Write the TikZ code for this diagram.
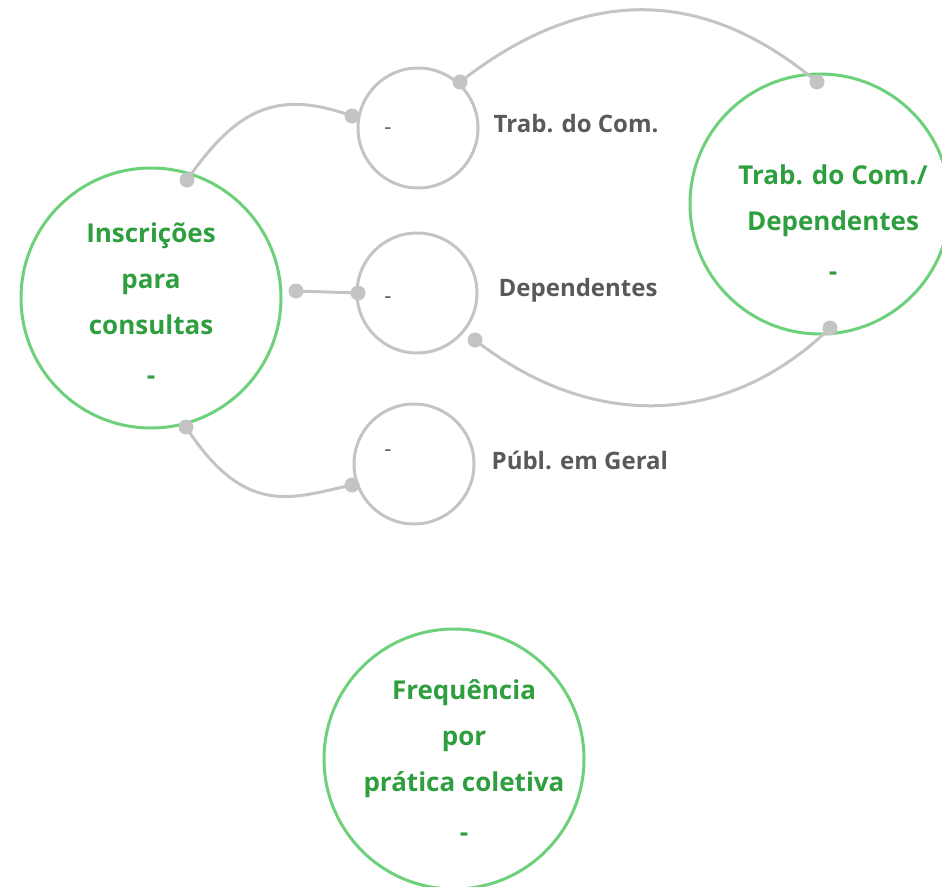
\documentclass[tikz,border=0pt]{standalone}
\usepackage{fontspec}
\setmainfont{Open Sans}
\usetikzlibrary{positioning}
\definecolor{ringgreen}{HTML}{6CD17A}
\definecolor{textgreen}{HTML}{2E9E3E}
\definecolor{ringgray}{HTML}{C4C4C4}
\definecolor{textgray}{HTML}{595959}
\tikzset{
  bigring/.style={circle, draw=ringgreen, line width=3pt, minimum size=260pt, inner sep=0pt},
  smallring/.style={circle, draw=ringgray, line width=3pt, minimum size=120pt, inner sep=0pt},
  bigtext/.style={text=textgreen, font=\fontsize{26}{46}\selectfont\bfseries, align=center, inner sep=0pt},
  graylabel/.style={text=textgray, font=\fontsize{24}{28}\selectfont\bfseries, inner sep=0pt},
  tinydash/.style={text=textgray, font=\fontsize{22}{24}\selectfont, inner sep=0pt},
  link/.style={draw=ringgray, line width=3pt},
  knob/.style={fill=ringgray, circle, inner sep=0pt, minimum size=15pt}
}
\begin{document}
\begin{tikzpicture}[x=1pt,y=1pt]
    \useasboundingbox (0,0) rectangle (942,-886);

    % rings
    \node [bigring] (insc) at (151,-298) {};
    \node [bigring] (tcd) at (820,-204) {};
    \node [bigring] (freq) at (454,-759) {};
    \node [smallring] (trab) at (418,-128) {};
    \node [smallring] (dep) at (417,-293) {};
    \node [smallring] (publ) at (414,-464) {};

    % texts
    \node [bigtext] (inscT) at (151,-304) {Inscrições\\para\\consultas\\[4pt]-};
    \node [bigtext] (tcdT) at (833,-223) {Trab. do Com./\\Dependentes\\[4pt]-};
    \node [bigtext] (freqT) at (464,-761) {Frequência\\por\\prática coletiva\\[4pt]-};
    \node [graylabel, right=14pt of trab, yshift=4pt] (trabL) {Trab. do Com.};
    \node [graylabel, right=20pt of dep, yshift=3pt] (depL) {Dependentes};
    \node [graylabel, right=16pt of publ, yshift=4pt] (publL) {Públ. em Geral};
    \node [tinydash] (trabD) at (388,-131) {-};
    \node [tinydash] (depD) at (388,-300) {-};
    \node [tinydash] (publD) at (388,-453) {-};

    % connector ends
    \coordinate (a1) at (187,-180);
    \coordinate (a2) at (352,-116);
    \coordinate (b1) at (296,-291);
    \coordinate (b2) at (358,-293);
    \coordinate (c1) at (186,-427);
    \coordinate (c2) at (352,-485);
    \coordinate (d1) at (460,-82);
    \coordinate (d2) at (817,-82);
    \coordinate (e1) at (475,-340);
    \coordinate (e2) at (830,-328);

    % connectors
    \draw [link] (a1) to [out=55, in=160, looseness=1.2] (a2);
    \draw [link] (b1) -- (b2);
    \draw [link] (c1) to [out=-57, in=192, out looseness=1.6, in looseness=0.87] (c2);
    \draw [link] (d1) to [out=38, in=140, looseness=1.1] (d2);
    \draw [link] (e1) to [out=-38, in=-136, looseness=1.05] (e2);

    \foreach \k in {a1,a2,b1,b2,c1,c2,d1,d2,e1,e2}
        \node [knob] at (\k) {};
\end{tikzpicture}
\end{document}
